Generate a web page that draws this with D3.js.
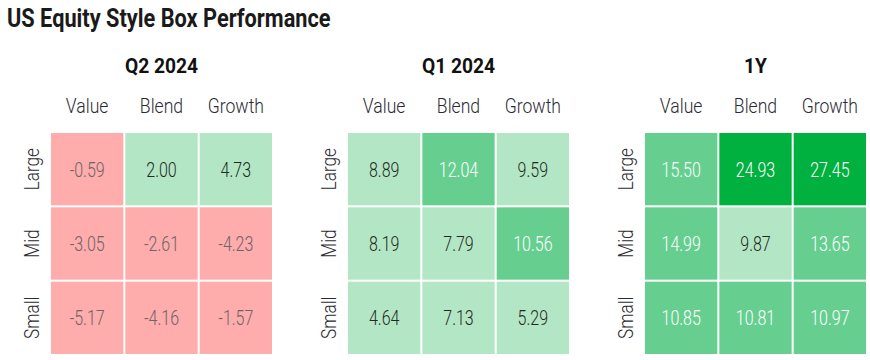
<!DOCTYPE html>
<html>
<head>
<meta charset="utf-8">
<script src="https://cdn.jsdelivr.net/npm/d3@7"></script>
<style>
  html, body { margin: 0; padding: 0; background: #fff; }
  svg { display: block; font-family: Roboto, "Noto Sans", sans-serif; }
</style>
</head>
<body>
<svg id="chart" width="870" height="360"></svg>
<script>
const title = "US Equity Style Box Performance";
const panels = ["Q2 2024", "Q1 2024", "1Y"];
const styles = ["Value", "Blend", "Growth"];
const sizes = ["Large", "Mid", "Small"];
// values[row][col] for each panel
const q2_2024 = [[-0.59, 2.00, 4.73], [-3.05, -2.61, -4.23], [-5.17, -4.16, -1.57]];
const q1_2024 = [[8.89, 12.04, 9.59], [8.19, 7.79, 10.56], [4.64, 7.13, 5.29]];
const oneYear = [[15.50, 24.93, 27.45], [14.99, 9.87, 13.65], [10.85, 10.81, 10.97]];
const panelValues = [q2_2024, q1_2024, oneYear];
const thresholds = [0, 10, 20];

const svg = d3.select("#chart");

const fill = d3.scaleThreshold().domain(thresholds)
  .range(["#FEACAC", "#B3E6C5", "#66CF90", "#00B140"]);
const textColor = d3.scaleThreshold().domain([0, 10])
  .range(["#6f6466", "#1f2a24", "#ffffff"]);

const panelX = d3.scalePoint().domain(panels).range([51, 645]);
const gridW = 221;
const x = d3.scaleBand().domain(styles).range([0, gridW]).paddingInner(0.027);
const y = d3.scaleBand().domain(sizes).range([133, 354]).paddingInner(0.027);

svg.append("text")
  .attr("transform", "translate(7,27) scale(0.87,1)")
  .attr("font-size", 25).attr("font-weight", "bold")
  .attr("fill", "#1a1a1a")
  .text(title);

panels.forEach((p, pi) => {
  const g = svg.append("g").attr("transform", `translate(${panelX(p)},0)`);
  g.append("text")
    .attr("transform", `translate(${gridW / 2},73) scale(0.96,1)`)
    .attr("text-anchor", "middle")
    .attr("font-size", 20).attr("font-weight", "bold")
    .attr("fill", "#111")
    .text(p);
  g.selectAll("text.col").data(styles).join("text")
    .attr("class", "col")
    .attr("transform", d => `translate(${x(d) + x.bandwidth() / 2},113) scale(0.88,1)`)
    .attr("text-anchor", "middle")
    .attr("font-size", 20).attr("font-weight", 300)
    .attr("fill", "#2b2b33")
    .text(d => d);
  g.selectAll("text.row").data(sizes).join("text")
    .attr("class", "row")
    .attr("transform", d => `translate(-12,${y(d) + y.bandwidth() / 2}) rotate(-90) scale(0.86,1)`)
    .attr("text-anchor", "middle")
    .attr("font-size", 20).attr("font-weight", 300)
    .attr("fill", "#2b2b33")
    .text(d => d);
  const cells = [];
  panelValues[pi].forEach((row, ri) => row.forEach((v, ci) => cells.push({ r: sizes[ri], c: styles[ci], v })));
  g.selectAll("rect.cell").data(cells).join("rect")
    .attr("class", "cell")
    .attr("x", d => x(d.c)).attr("y", d => y(d.r))
    .attr("width", x.bandwidth()).attr("height", y.bandwidth())
    .attr("fill", d => fill(d.v));
  g.selectAll("text.val").data(cells).join("text")
    .attr("class", "val")
    .attr("transform", d => `translate(${x(d.c) + x.bandwidth() / 2},${y(d.r) + y.bandwidth() / 2 + 7.5}) scale(0.8,1)`)
    .attr("text-anchor", "middle")
    .attr("font-size", 20).attr("font-weight", 300)
    .attr("fill", d => textColor(d.v))
    .text(d => d.v.toFixed(2));
});
</script>
</body>
</html>
